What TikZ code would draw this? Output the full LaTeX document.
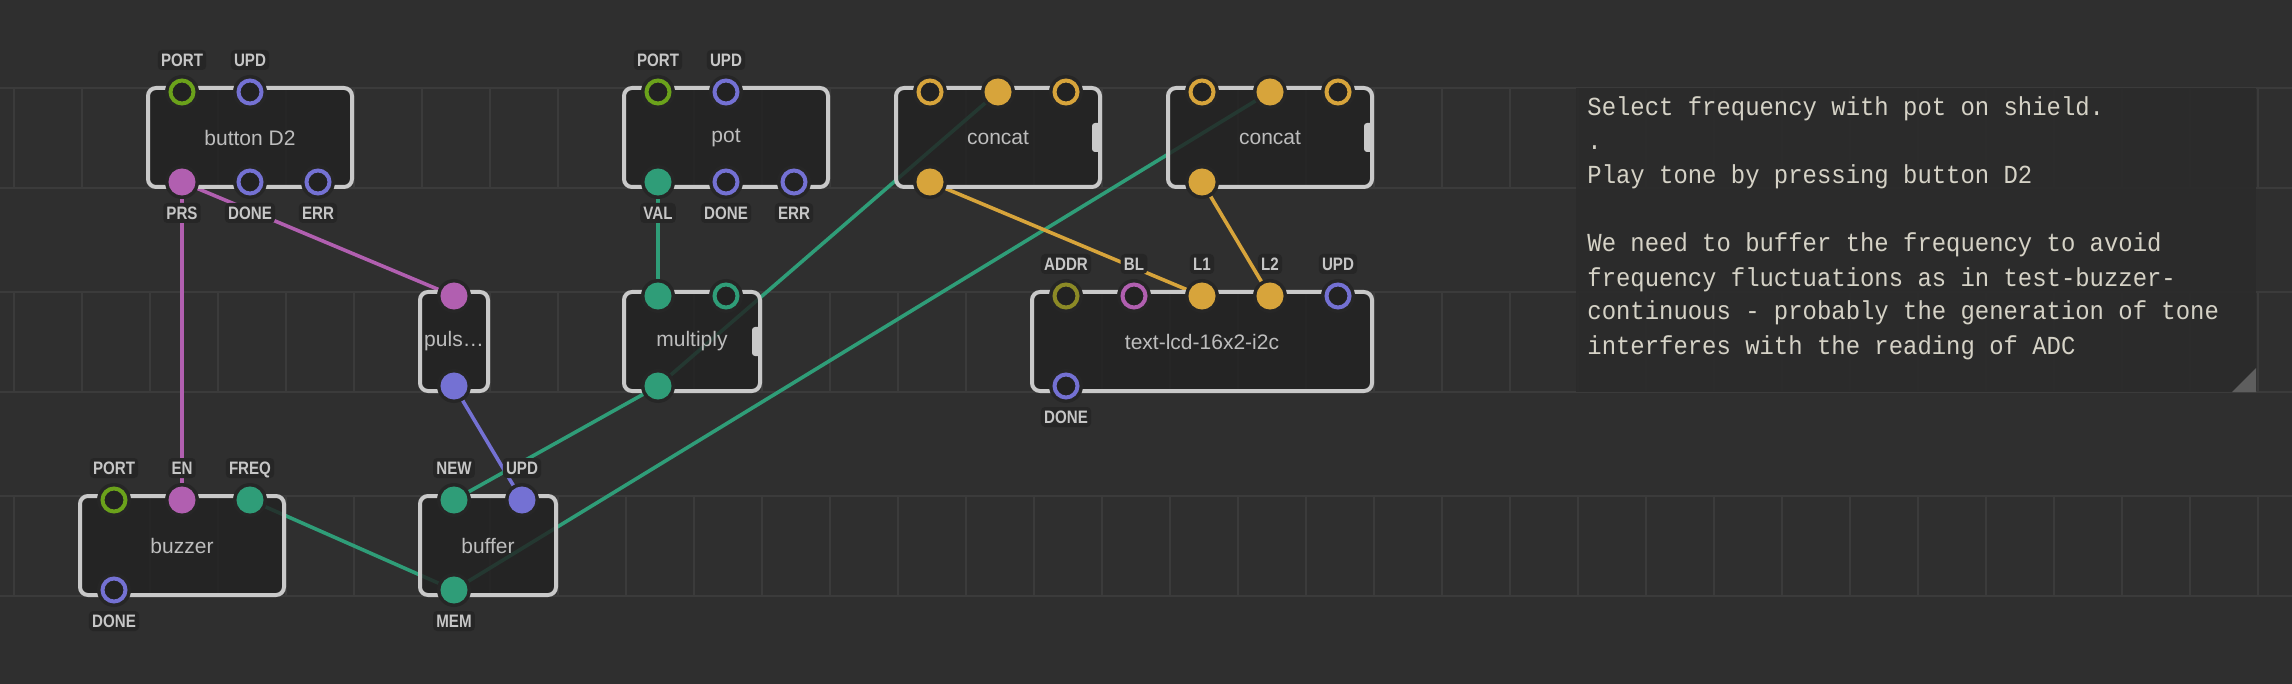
\documentclass[tikz,border=0pt]{standalone}
\usepackage{fontspec}
\setmainfont{Liberation Sans}
\newfontfamily\xtitlefont{Liberation Sans}
\newfontfamily\xlblfont[FakeStretch=0.84]{Liberation Sans}
\newfontfamily\xmonofont[FakeStretch=0.92]{Liberation Mono}
\pgfdeclarelayer{gridlayer}
\pgfdeclarelayer{wirelayer}
\pgfsetlayers{gridlayer,wirelayer,main}
\definecolor{bgc}{HTML}{2F2F2F}
\definecolor{gridc}{HTML}{3B3B3B}
\definecolor{boxfill}{HTML}{222222}
\definecolor{boxline}{HTML}{C9C9C9}
\definecolor{titletext}{HTML}{BDBDBD}
\definecolor{lblbg}{HTML}{262626}
\definecolor{lbltext}{HTML}{C6C6C6}
\definecolor{haloc}{HTML}{262626}
\definecolor{cmtfill}{HTML}{2B2B2B}
\definecolor{cmttext}{HTML}{D5D2C6}
\definecolor{resizec}{HTML}{5E5E5E}
\definecolor{pgreen}{HTML}{6BA21B}
\definecolor{polive}{HTML}{8C8A26}
\definecolor{ppur}{HTML}{7471D3}
\definecolor{pmag}{HTML}{B15FB0}
\definecolor{pteal}{HTML}{2F9D78}
\definecolor{pyel}{HTML}{D7A43B}
\tikzset{
  xbox/.style={rectangle, rounded corners=4pt, draw=boxline, line width=2pt,
    fill=boxfill, fill opacity=0.82, text opacity=1, text=titletext,
    font={\xtitlefont\fontsize{10.5}{12}\selectfont}, inner sep=0pt,
    minimum height=49.5pt},
  pinbase/.style={circle, inner sep=0pt, minimum size=11.5pt, line width=2pt},
  pinring/.style={pinbase, draw=#1, fill=boxfill},
  pindot/.style={pinbase, draw=#1, fill=#1},
  lbl/.style={fill=lblbg, rounded corners=2pt, inner sep=1.6pt, text=lbltext,
    font={\xlblfont\bfseries\fontsize{9}{10}\selectfont}, text height=6.6pt, text depth=0.2pt},
  wire/.style={line width=1.8pt},
  gridline/.style={draw=gridc, line width=0.8pt},
  vhandle/.style={fill=boxline, rounded corners=1.5pt},
  cmtbox/.style={rectangle, fill=cmtfill, fill opacity=0.9, inner sep=0pt,
    minimum width=340pt, minimum height=152pt},
  cmtline/.style={anchor=base west, inner sep=0pt, text=cmttext,
    font={\xmonofont\fontsize{13}{17}\selectfont}},
}
\newcommand\xpin[5]{%
  \fill[haloc] (#2,#3) circle[radius=8.5pt];
  \node[#5=#4] (#1) at (#2,#3) {};}
\begin{document}
\begin{tikzpicture}[x=0.5pt,y=-0.5pt]
\useasboundingbox (0,0) rectangle (2292,684);
\begin{pgfonlayer}{gridlayer}
\fill[bgc] (0,0) rectangle (2292,684);
\foreach \yy in {88,292,496}{
  \draw[gridline] (0,\yy) -- (2292,\yy);
  \draw[gridline] (0,\yy+100) -- (2292,\yy+100);
  \foreach \k in {0,...,33} \draw[gridline] (14+68*\k,\yy) -- (14+68*\k,\yy+100);
}
\end{pgfonlayer}

% comment
\node[cmtbox] (cmt) at (1916,240) {};
\fill[resizec] (2256,368) -- (2256,392) -- (2232,392) -- cycle;
\node[cmtline] (c1) at (1587,116) {Select frequency with pot on shield.};
\node[cmtline] (c2) at (1587,150) {.};
\node[cmtline] (c3) at (1587,184) {Play tone by pressing button D2};
\node[cmtline] (c5) at (1587,252) {We need to buffer the frequency to avoid};
\node[cmtline] (c6) at (1587,286) {frequency fluctuations as in test-buzzer-};
\node[cmtline] (c7) at (1587,320) {continuous - probably the generation of tone};
\node[cmtline] (c8) at (1587,354) {interferes with the reading of ADC};

% node boxes
\node[xbox, minimum width=102pt] (button) at (250,137.5) {button D2};
\node[xbox, minimum width=102pt] (pot) at (726,137.5) {pot};
\node[xbox, minimum width=102pt] (concat1) at (998,137.5) {concat};
\node[xbox, minimum width=102pt] (concat2) at (1270,137.5) {concat};
\node[xbox, minimum width=34pt] (puls) at (454,341.5) {puls…};
\node[xbox, minimum width=68pt] (multiply) at (692,341.5) {multiply};
\node[xbox, minimum width=170pt] (lcd) at (1202,341.5) {text-lcd-16x2-i2c};
\node[xbox, minimum width=102pt] (buzzer) at (182,545.5) {buzzer};
\node[xbox, minimum width=68pt] (buffer) at (488,545.5) {buffer};

% variadic handles
\fill[vhandle] (1092,123) rectangle (1101,152);
\fill[vhandle] (1364,123) rectangle (1373,152);
\fill[vhandle] (752,327) rectangle (761,356);

% pins
\xpin{btn-port}{182}{92}{pgreen}{pinring}
\xpin{btn-upd}{250}{92}{ppur}{pinring}
\xpin{btn-prs}{182}{182}{pmag}{pindot}
\xpin{btn-done}{250}{182}{ppur}{pinring}
\xpin{btn-err}{318}{182}{ppur}{pinring}

\xpin{pot-port}{658}{92}{pgreen}{pinring}
\xpin{pot-upd}{726}{92}{ppur}{pinring}
\xpin{pot-val}{658}{182}{pteal}{pindot}
\xpin{pot-done}{726}{182}{ppur}{pinring}
\xpin{pot-err}{794}{182}{ppur}{pinring}

\xpin{cc1-a}{930}{92}{pyel}{pinring}
\xpin{cc1-b}{998}{92}{pyel}{pindot}
\xpin{cc1-c}{1066}{92}{pyel}{pinring}
\xpin{cc1-out}{930}{182}{pyel}{pindot}

\xpin{cc2-a}{1202}{92}{pyel}{pinring}
\xpin{cc2-b}{1270}{92}{pyel}{pindot}
\xpin{cc2-c}{1338}{92}{pyel}{pinring}
\xpin{cc2-out}{1202}{182}{pyel}{pindot}

\xpin{pls-in}{454}{296}{pmag}{pindot}
\xpin{pls-out}{454}{386}{ppur}{pindot}

\xpin{mul-a}{658}{296}{pteal}{pindot}
\xpin{mul-b}{726}{296}{pteal}{pinring}
\xpin{mul-out}{658}{386}{pteal}{pindot}

\xpin{lcd-addr}{1066}{296}{polive}{pinring}
\xpin{lcd-bl}{1134}{296}{pmag}{pinring}
\xpin{lcd-l1}{1202}{296}{pyel}{pindot}
\xpin{lcd-l2}{1270}{296}{pyel}{pindot}
\xpin{lcd-upd}{1338}{296}{ppur}{pinring}
\xpin{lcd-done}{1066}{386}{ppur}{pinring}

\xpin{buz-port}{114}{500}{pgreen}{pinring}
\xpin{buz-en}{182}{500}{pmag}{pindot}
\xpin{buz-freq}{250}{500}{pteal}{pindot}
\xpin{buz-done}{114}{590}{ppur}{pinring}

\xpin{buf-new}{454}{500}{pteal}{pindot}
\xpin{buf-upd}{522}{500}{ppur}{pindot}
\xpin{buf-mem}{454}{590}{pteal}{pindot}

% wires
\begin{pgfonlayer}{wirelayer}
\draw[wire, pmag] (btn-prs.center) -- (buz-en.center);
\draw[wire, pmag] (btn-prs.center) -- (pls-in.center);
\draw[wire, ppur] (pls-out.center) -- (buf-upd.center);
\draw[wire, pteal] (pot-val.center) -- (mul-a.center);
\draw[wire, pteal] (mul-out.center) -- (buf-new.center);
\draw[wire, pteal] (mul-out.center) -- (cc1-b.center);
\draw[wire, pteal] (buf-mem.center) -- (buz-freq.center);
\draw[wire, pteal] (buf-mem.center) -- (cc2-b.center);
\draw[wire, pyel] (cc1-out.center) -- (lcd-l1.center);
\draw[wire, pyel] (cc2-out.center) -- (lcd-l2.center);
\end{pgfonlayer}

% labels
\node[lbl] (l-btn-port) at (182,60) {PORT};
\node[lbl] (l-btn-upd) at (250,60) {UPD};
\node[lbl] (l-btn-prs) at (182,213) {PRS};
\node[lbl] (l-btn-done) at (250,213) {DONE};
\node[lbl] (l-btn-err) at (318,213) {ERR};

\node[lbl] (l-pot-port) at (658,60) {PORT};
\node[lbl] (l-pot-upd) at (726,60) {UPD};
\node[lbl] (l-pot-val) at (658,213) {VAL};
\node[lbl] (l-pot-done) at (726,213) {DONE};
\node[lbl] (l-pot-err) at (794,213) {ERR};

\node[lbl] (l-lcd-addr) at (1066,264) {ADDR};
\node[lbl] (l-lcd-bl) at (1134,264) {BL};
\node[lbl] (l-lcd-l1) at (1202,264) {L1};
\node[lbl] (l-lcd-l2) at (1270,264) {L2};
\node[lbl] (l-lcd-upd) at (1338,264) {UPD};
\node[lbl] (l-lcd-done) at (1066,417) {DONE};

\node[lbl] (l-buz-port) at (114,468) {PORT};
\node[lbl] (l-buz-en) at (182,468) {EN};
\node[lbl] (l-buz-freq) at (250,468) {FREQ};
\node[lbl] (l-buz-done) at (114,621) {DONE};

\node[lbl] (l-buf-new) at (454,468) {NEW};
\node[lbl] (l-buf-upd) at (522,468) {UPD};
\node[lbl] (l-buf-mem) at (454,621) {MEM};
\end{tikzpicture}
\end{document}
